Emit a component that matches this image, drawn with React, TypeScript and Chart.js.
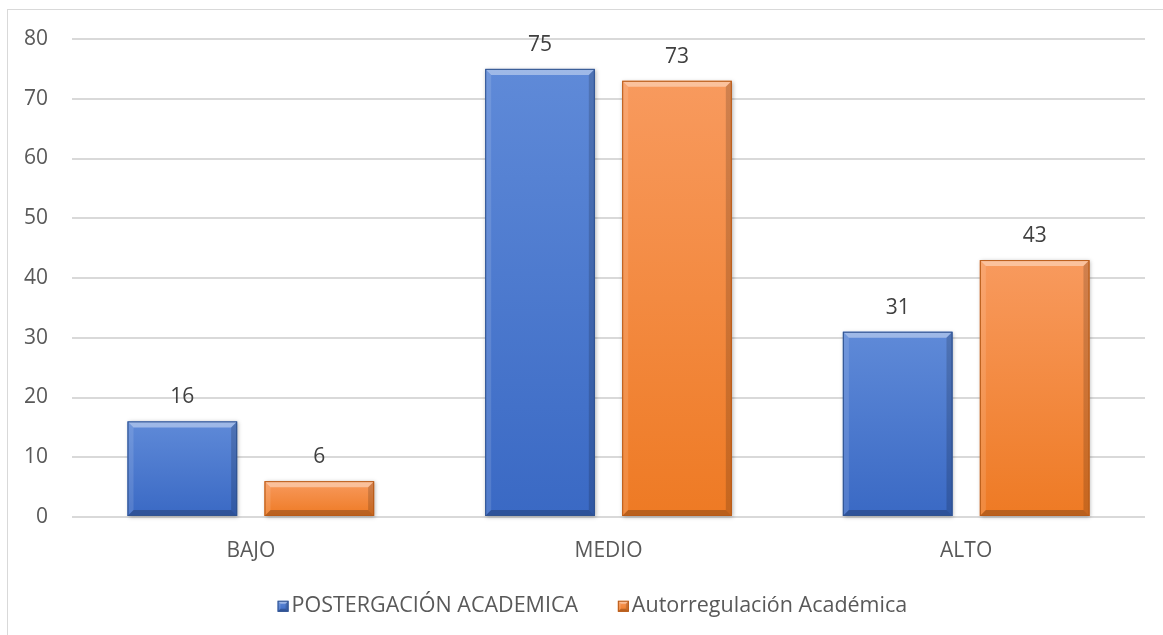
import React, { useEffect, useRef } from "react";
import { Chart, registerables } from "chart.js";

Chart.register(...registerables);

const categories = ["BAJO", "MEDIO", "ALTO"];
const seriesNames = ["POSTERGACIÓN ACADEMICA", "Autorregulación Académica"];
const postergacion = [16, 75, 31];
const autorregulacion = [6, 73, 43];
const yTicks = [0, 10, 20, 30, 40, 50, 60, 70, 80];

const FONT = "'Open Sans', 'DejaVu Sans', sans-serif";
const LEGEND_FONT_SIZE = 21.5;
const LEGEND_BOX = 11;
const LEGEND_BOX_SHIFT = 7.75;
const LEGEND_SHIFT_X = 16;

const palettes = [
  { top: "#5f8ad8", bottom: "#3a69c4", edge: "#2f528f", base: "#4472c4" },
  { top: "#f89a5e", bottom: "#ee7a24", edge: "#b85a17", base: "#ed7d31" },
];

function poly(ctx: CanvasRenderingContext2D, pts: number[][], fill: string) {
  ctx.beginPath();
  ctx.moveTo(pts[0][0], pts[0][1]);
  for (let i = 1; i < pts.length; i++) ctx.lineTo(pts[i][0], pts[i][1]);
  ctx.closePath();
  ctx.fillStyle = fill;
  ctx.fill();
}

function drawBevel(
  ctx: CanvasRenderingContext2D,
  left: number,
  top: number,
  right: number,
  bottom: number,
  p: any,
  shadow: boolean,
  bevel: number
) {
  const w = right - left;
  const h = bottom - top;
  if (h <= 0 || w <= 0) return;
  const b = Math.min(bevel, h / 2, w / 2);
  ctx.save();
  if (shadow) {
    ctx.shadowColor = "rgba(0,0,0,0.3)";
    ctx.shadowBlur = 4;
    ctx.shadowOffsetX = 1;
    ctx.shadowOffsetY = 1;
  }
  const g = ctx.createLinearGradient(0, top, 0, bottom);
  g.addColorStop(0, p.top);
  g.addColorStop(1, p.bottom);
  ctx.fillStyle = g;
  ctx.fillRect(left, top, w, h);
  ctx.restore();
  ctx.save();
  poly(ctx, [[left, top], [right, top], [right - b, top + b], [left + b, top + b]], "rgba(255,255,255,0.4)");
  poly(ctx, [[left, top], [left + b, top + b], [left + b, bottom - b], [left, bottom]], "rgba(255,255,255,0.12)");
  poly(ctx, [[right, top], [right, bottom], [right - b, bottom - b], [right - b, top + b]], "rgba(0,0,0,0.16)");
  poly(ctx, [[left, bottom], [right, bottom], [right - b, bottom - b], [left + b, bottom - b]], "rgba(0,0,0,0.22)");
  ctx.strokeStyle = p.edge;
  ctx.lineWidth = 1;
  ctx.strokeRect(left + 0.5, top + 0.5, w - 1, h - 1);
  ctx.restore();
}

const bevelPlugin = {
  id: "bevelBars",
  afterDatasetsDraw(chart: any) {
    const ctx = chart.ctx;
    chart.data.datasets.forEach((ds: any, di: number) => {
      const meta = chart.getDatasetMeta(di);
      meta.data.forEach((bar: any) => {
        const { x, y, width, base } = bar.getProps(["x", "y", "width", "base"], true);
        drawBevel(ctx, x - width / 2, y, x + width / 2, base, palettes[di], true, 6);
      });
    });
  },
};

const valueLabelPlugin = {
  id: "valueLabels",
  afterDatasetsDraw(chart: any) {
    const ctx = chart.ctx;
    ctx.save();
    ctx.font = `21px ${FONT}`;
    ctx.fillStyle = "#404040";
    ctx.textAlign = "center";
    ctx.textBaseline = "middle";
    chart.data.datasets.forEach((ds: any, di: number) => {
      const meta = chart.getDatasetMeta(di);
      meta.data.forEach((bar: any, i: number) => {
        ctx.fillText(String(ds.data[i]), bar.x, bar.y - 24);
      });
    });
    ctx.restore();
  },
};

const legendBoxPlugin = {
  id: "legendBevel",
  afterLayout(chart: any) {
    const lg = chart.legend;
    if (!lg) return;
    lg.left += LEGEND_SHIFT_X;
    lg.right += LEGEND_SHIFT_X;
  },
  afterDraw(chart: any) {
    const lg = chart.legend;
    if (!lg || !lg.legendHitBoxes) return;
    const ctx = chart.ctx;
    lg.legendHitBoxes.forEach((hb: any, i: number) => {
      const top = hb.top + (hb.height - LEGEND_BOX) / 2;
      const left = hb.left + LEGEND_BOX_SHIFT;
      drawBevel(ctx, left, top, left + LEGEND_BOX, top + LEGEND_BOX, palettes[i], false, 3);
    });
  },
};

export default function App() {
  const ref = useRef<HTMLCanvasElement>(null);
  useEffect(() => {
    document.body.style.margin = "0";
    document.body.style.overflow = "hidden";
    const chart = new Chart(ref.current as HTMLCanvasElement, {
      type: "bar",
      data: {
        labels: categories,
        datasets: [
          {
            label: seriesNames[0],
            data: postergacion,
            backgroundColor: palettes[0].base,
            borderWidth: 0,
            categoryPercentage: 0.766,
            barPercentage: 0.8,
          },
          {
            label: seriesNames[1],
            data: autorregulacion,
            backgroundColor: palettes[1].base,
            borderWidth: 0,
            categoryPercentage: 0.766,
            barPercentage: 0.8,
          },
        ],
      },
      options: {
        animation: false,
        responsive: false,
        layout: { padding: { left: 0, right: 18, top: 39, bottom: 8 } },
        scales: {
          y: {
            min: 0,
            max: 80,
            afterFit: (s: any) => {
              s.width = 72;
            },
            afterBuildTicks: (s: any) => {
              s.ticks = yTicks.map((v) => ({ value: v }));
            },
            ticks: {
              stepSize: 10,
              padding: 24,
              color: "#595959",
              font: { family: FONT, size: 21 },
            },
            grid: { color: "#d9d9d9", lineWidth: 2, drawTicks: false },
            border: { display: false },
          },
          x: {
            afterFit: (s: any) => {
              s.height = 46.5;
            },
            ticks: {
              padding: 21,
              color: "#595959",
              font: { family: FONT, size: 21 },
            },
            grid: { display: false, drawTicks: false },
            border: { display: false },
          },
        },
        plugins: {
          legend: {
            position: "bottom",
            labels: {
              boxWidth: LEGEND_BOX,
              boxHeight: LEGEND_BOX,
              padding: 32,
              color: "#595959",
              font: { family: FONT, size: LEGEND_FONT_SIZE },
              generateLabels: (chart: any) => {
                const items = Chart.defaults.plugins.legend.labels.generateLabels(chart);
                return items.map((it: any) => ({
                  ...it,
                  fillStyle: "rgba(0,0,0,0)",
                  strokeStyle: "rgba(0,0,0,0)",
                  lineWidth: 0,
                }));
              },
            },
          },
          tooltip: { enabled: false },
        },
      },
      plugins: [bevelPlugin, valueLabelPlugin, legendBoxPlugin],
    } as any);
    return () => chart.destroy();
  }, []);
  return (
    <div style={{ position: "fixed", left: 0, top: 0, width: 1163, height: 635, background: "#fff" }}>
      <div
        style={{
          position: "absolute",
          left: 7,
          top: 9,
          width: 1170,
          height: 700,
          borderTop: "1px solid #d9d9d9",
          borderLeft: "1px solid #d9d9d9",
          boxSizing: "border-box",
        }}
      />
      <canvas ref={ref} width={1163} height={635} style={{ position: "absolute", left: 0, top: 0 }} />
    </div>
  );
}
